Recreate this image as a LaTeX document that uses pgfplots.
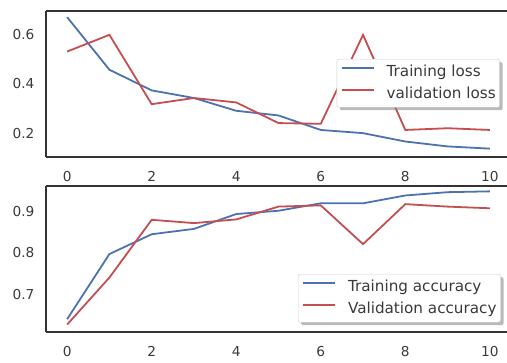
\documentclass[border=0pt]{standalone}
\usepackage{fontspec}
\setmainfont{DejaVu Sans}
\usepackage{pgfplots}
\pgfplotsset{compat=1.18}
\usetikzlibrary{shadows}
\makeatletter
\tikzset{nopre/.code={\let\tikz@preactions\pgfutil@empty\let\tikz@postactions\pgfutil@empty}}
\makeatother
\definecolor{sblue}{HTML}{4C72B0}
\definecolor{sred}{HTML}{C44E52}
\definecolor{tk}{HTML}{3A3A3A}
\definecolor{fr}{HTML}{333333}
\pgfplotsset{
  myax/.style={
    overlay,
    scale only axis, width=465pt, height=146pt, anchor=south west,
    xmin=-0.5, xmax=10.5, xtick={0,2,4,6,8,10},
    tick style={draw=none},
    axis x line*=bottom, axis y line*=left,
    axis line style={draw=fr, line width=1.4pt, -},
    /pgf/number format/assume math mode=true,
    ticklabel style={font=\fontsize{13.7}{16}\selectfont, text=tk},
    yticklabel style={/pgf/number format/fixed, /pgf/number format/precision=1, xshift=-8pt},
    xticklabel style={yshift=-11pt},
    legend cell align=left,
    legend image code/.code={\draw[nopre,#1] (0pt,4.5pt) -- (32pt,4.5pt);},
    legend style={font=\fontsize{15.2}{18}\selectfont, text=tk, draw=black!20, rounded corners=2pt,
      fill=white, inner xsep=4pt, inner ysep=5pt, row sep=6pt, column sep=12pt,
      drop shadow={shadow xshift=3pt, shadow yshift=-3pt, fill=black!45, opacity=0.6},
      nodes={nopre, inner sep=0pt, text height=12pt, text depth=4pt}},
    every axis plot/.append style={line width=1.8pt},
    after end axis/.code={\draw[fr, line width=1.4pt] (rel axis cs:0,1) -- (rel axis cs:1,1);},
  }
}
\begin{document}
\begin{tikzpicture}[x=1pt,y=1pt]
\useasboundingbox (0,0) rectangle (507,363);
\begin{axis}[myax, at={(46pt,206pt)}, ymin=0.103, ymax=0.697, ytick={0.2,0.4,0.6},
  legend style={at={(0.625,0.671)}, anchor=north west}]
\addplot[sblue] coordinates {(0,0.672) (1,0.458) (2,0.374) (3,0.343) (4,0.291) (5,0.272) (6,0.213) (7,0.200) (8,0.166) (9,0.146) (10,0.137)};
\addlegendentry{Training loss}
\addplot[sred] coordinates {(0,0.532) (1,0.600) (2,0.318) (3,0.343) (4,0.325) (5,0.241) (6,0.238) (7,0.600) (8,0.213) (9,0.220) (10,0.213)};
\addlegendentry{validation loss}
\end{axis}
\begin{axis}[myax, at={(46pt,31pt)}, ymin=0.608, ymax=0.962, ytick={0.7,0.8,0.9},
  legend style={at={(0.542,0.397)}, anchor=north west}]
\addplot[sblue] coordinates {(0,0.639) (1,0.797) (2,0.845) (3,0.858) (4,0.894) (5,0.902) (6,0.920) (7,0.920) (8,0.939) (9,0.947) (10,0.949)};
\addlegendentry{Training accuracy}
\addplot[sred] coordinates {(0,0.626) (1,0.740) (2,0.880) (3,0.872) (4,0.881) (5,0.912) (6,0.915) (7,0.821) (8,0.918) (9,0.912) (10,0.908)};
\addlegendentry{Validation accuracy}
\end{axis}
\end{tikzpicture}
\end{document}
